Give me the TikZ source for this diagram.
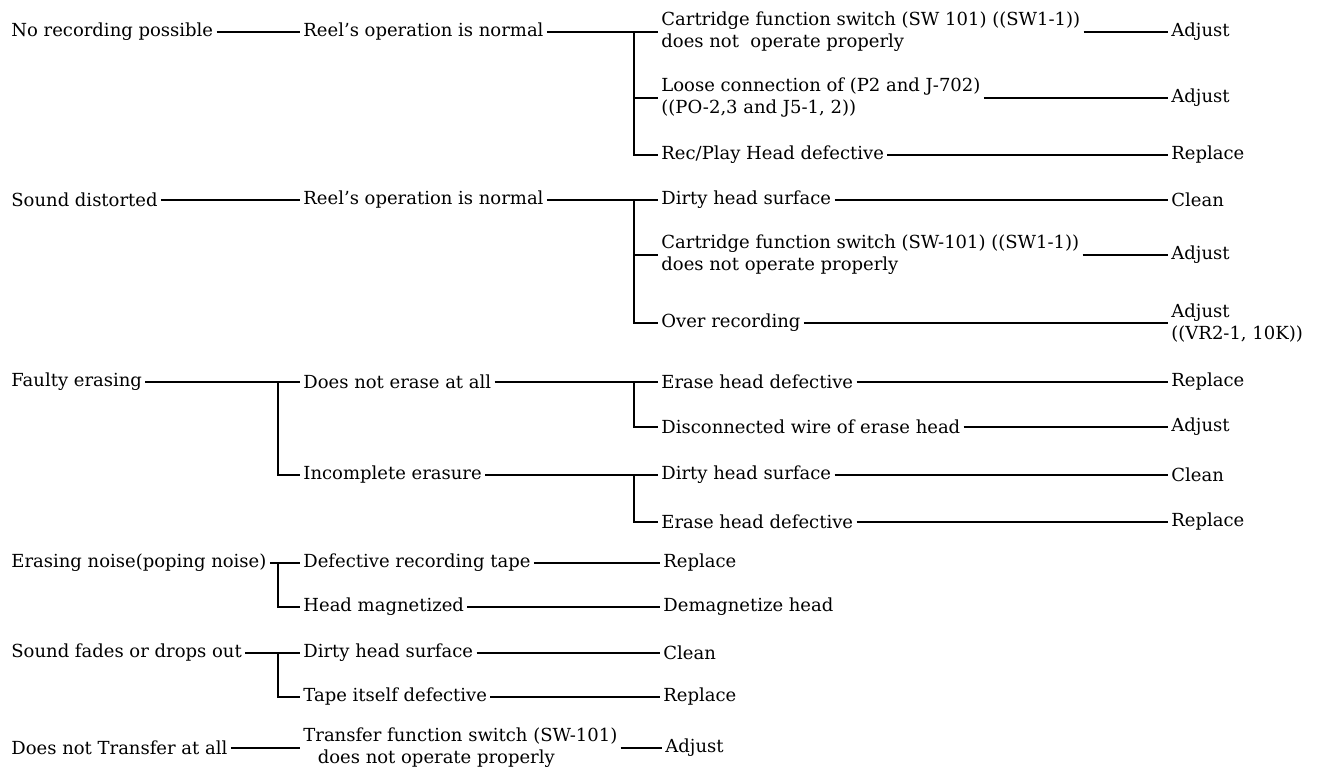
\documentclass[tikz,border=0pt]{standalone}
\usepackage{fontspec}
\setmainfont{DejaVu Serif}
\usetikzlibrary{calc}

\begin{document}
\begin{tikzpicture}[
  x=0.5pt,
  y=-0.5pt,
  item/.style={anchor=west, inner xsep=1.5pt, inner ysep=1pt, align=left,
    font=\fontsize{9}{11}\selectfont},
  wire/.style={draw=black, line width=1.2pt}
]
  \def\colB{300}
  \def\colC{658}
  \def\colD{1168}
  \def\barL{278}
  \def\barR{634}

  \useasboundingbox (0,0) rectangle (1321,773);

  % No recording possible.
  \node[item] (norec) at (8,32) {No recording possible};
  \node[item] (reel1) at (\colB,32) {Reel's operation is normal};
  \node[item] (cart1) at (\colC,32)
    {Cartridge function switch (SW 101) ((SW1-1))\\does not\ \ operate properly};
  \node[item] (loose) at (\colC,98)
    {Loose connection of (P2 and J-702)\\((PO-2,3 and J5-1, 2))};
  \node[item] (rphead) at (\colC,155) {Rec/Play Head defective};
  \node[item] (adj1) at (\colD,32) {Adjust};
  \node[item] (adj2) at (\colD,98) {Adjust};
  \node[item] (repl1) at (\colD,155) {Replace};

  % Sound distorted.
  \node[item] (sdist) at (8,200) {Sound distorted};
  \node[item] (reel2) at (\colB,200) {Reel's operation is normal};
  \node[item] (dirty1) at (\colC,200) {Dirty head surface};
  \node[item] (cart2) at (\colC,255)
    {Cartridge function switch (SW-101) ((SW1-1))\\does not operate properly};
  \node[item] (over) at (\colC,323) {Over recording};
  \node[item] (clean1) at (\colD,200) {Clean};
  \node[item] (adj3) at (\colD,255) {Adjust};
  \node[item] (adj4) at (\colD,323) {Adjust\\((VR2-1, 10K))};

  % Faulty erasing.
  \node[item] (ferase) at (8,382) {Faulty erasing};
  \node[item] (noerase) at (\colB,382) {Does not erase at all};
  \node[item] (incomp) at (\colB,475) {Incomplete erasure};
  \node[item] (ehead1) at (\colC,382) {Erase head defective};
  \node[item] (dwire) at (\colC,427) {Disconnected wire of erase head};
  \node[item] (dirty2) at (\colC,475) {Dirty head surface};
  \node[item] (ehead2) at (\colC,522) {Erase head defective};
  \node[item] (repl2) at (\colD,382) {Replace};
  \node[item] (adj5) at (\colD,427) {Adjust};
  \node[item] (clean2) at (\colD,475) {Clean};
  \node[item] (repl3) at (\colD,522) {Replace};

  % Erasing noise and fading.
  \node[item] (noise) at (8,563) {Erasing noise(poping noise)};
  \node[item] (dtape) at (\colB,563) {Defective recording tape};
  \node[item] (hmag) at (\colB,607) {Head magnetized};
  \node[item] (repl4) at (660,563) {Replace};
  \node[item] (demag) at (660,607) {Demagnetize head};

  \node[item] (fades) at (8,653) {Sound fades or drops out};
  \node[item] (dirty3) at (\colB,653) {Dirty head surface};
  \node[item] (tself) at (\colB,697) {Tape itself defective};
  \node[item] (clean3) at (660,653) {Clean};
  \node[item] (repl5) at (660,697) {Replace};

  % Transfer.
  \node[item] (notrans) at (8,748) {Does not Transfer at all};
  \node[item] (tfs) at (\colB,748)
    {Transfer function switch (SW-101)\\\hspace*{0.8em}does not operate properly};
  \node[item] (adj6) at (662,748) {Adjust};

  % Branch points.
  \coordinate (barA) at (\barR,32);
  \coordinate (barB) at (\barR,200);
  \coordinate (barC) at (\barL,382);
  \coordinate (barD) at (\barR,382);
  \coordinate (barE) at (\barR,475);
  \coordinate (barF) at (\barL,563);
  \coordinate (barG) at (\barL,653);

  % Straight runs.
  \foreach \a/\b in {norec/reel1, reel1/cart1, cart1/adj1, loose/adj2,
      rphead/repl1, sdist/reel2, reel2/dirty1, dirty1/clean1, cart2/adj3,
      over/adj4, ferase/noerase, noerase/ehead1, incomp/dirty2,
      ehead1/repl2, dwire/adj5, dirty2/clean2, ehead2/repl3,
      noise/dtape, dtape/repl4, hmag/demag, fades/dirty3, dirty3/clean3,
      tself/repl5, notrans/tfs, tfs/adj6}
    \draw[wire] (\a.east) -- (\b.west);

  % Brackets.
  \draw[wire] (barA) |- (rphead.west);
  \draw[wire] (barA |- loose.west) -- (loose.west);
  \draw[wire] (barB) |- (over.west);
  \draw[wire] (barB |- cart2.west) -- (cart2.west);
  \draw[wire] (barC) |- (incomp.west);
  \draw[wire] (barD) |- (dwire.west);
  \draw[wire] (barE) |- (ehead2.west);
  \draw[wire] (barF) |- (hmag.west);
  \draw[wire] (barG) |- (tself.west);

\end{tikzpicture}
\end{document}
